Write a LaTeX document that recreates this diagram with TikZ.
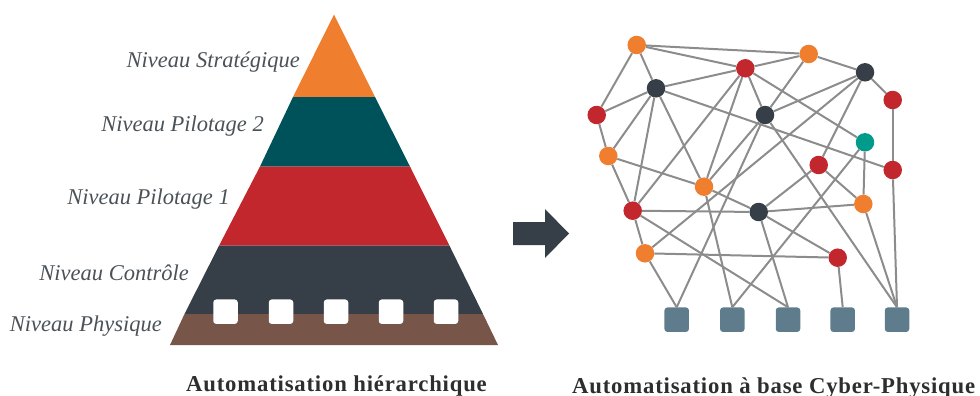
\documentclass[tikz,border=0pt]{standalone}
\usepackage{fontspec}
\setmainfont{Liberation Serif}
\newfontfamily\ttlfont[LetterSpace=3.6]{Liberation Serif}
\definecolor{cOrange}{HTML}{EF7F2F}
\definecolor{cTeal}{HTML}{00525A}
\definecolor{cGreen}{HTML}{009B8A}
\definecolor{cRed}{HTML}{C1272D}
\definecolor{cDark}{HTML}{363E47}
\definecolor{cBrown}{HTML}{775548}
\definecolor{cSlate}{HTML}{5E7C8B}
\definecolor{cEdge}{HTML}{8C8C8C}
\definecolor{cText}{HTML}{4A5258}
\tikzset{
  x=1pt,y=-1pt,
  dot/.style={circle,inner sep=0pt,minimum size=18.5pt,fill=#1},
  sq/.style={rectangle,rounded corners=3pt,inner sep=0pt,minimum size=24.5pt,fill=#1},
  lvl/.style={anchor=base east,inner sep=0pt,text=cText,font=\fontsize{22.5}{24}\selectfont\itshape},
  ttl/.style={anchor=base west,inner sep=0pt,text=black!82,font=\ttlfont\fontsize{22.7}{24}\selectfont\bfseries},
  edge/.style={draw=cEdge,line width=2pt}
}
\begin{document}
\begin{tikzpicture}
\useasboundingbox (0,0) rectangle (980,396);
% pyramid
\fill[cOrange] (334,14.5) -- (375,97) -- (293,97) -- cycle;
\fill[cTeal] (293,97) -- (375,97) -- (410,166.5) -- (260,166.5) -- cycle;
\fill[cRed] (260,166.5) -- (410,166.5) -- (449.5,245.7) -- (219,245.7) -- cycle;
\fill[cDark] (219,245.7) -- (449.5,245.7) -- (483,314) -- (184.5,314) -- cycle;
\fill[cBrown] (184.5,314) -- (483,314) -- (498,345) -- (170,345) -- cycle;
\foreach \n/\x in {a/225.5,b/281,c/336,d/391,e/446}
  \node[sq=white] (w\n) at (\x,311.7) {};
% labels
\node[lvl] (l1) at (300,68) {Niveau Stratégique};
\node[lvl] (l2) at (264,131.7) {Niveau Pilotage 2};
\node[lvl] (l3) at (230,204) {Niveau Pilotage 1};
\node[lvl] (l4) at (189,280) {Niveau Contrôle};
\node[lvl] (l5) at (162,331) {Niveau Physique};
\node[ttl] (t1) at (186,391) {Automatisation hiérarchique};
\node[ttl] (t2) at (572,393) {Automatisation à base Cyber-Physique};
% arrow
\fill[cDark] (513,222) -- (545,222) -- (545,209) -- (569,233.5) -- (545,258) -- (545,245) -- (513,245) -- cycle;
% network
\node[dot=cOrange] (o1) at (636.7,45) {};
\node[dot=cOrange] (o2) at (808.7,54) {};
\node[dot=cRed] (r1) at (745.3,68.3) {};
\node[dot=cDark] (k1) at (656,88.3) {};
\node[dot=cDark] (k2) at (865,72.3) {};
\node[dot=cRed] (r2) at (892.7,100) {};
\node[dot=cRed] (r3) at (596.7,115) {};
\node[dot=cDark] (k3) at (765,115) {};
\node[dot=cGreen] (g1) at (865,142.3) {};
\node[dot=cOrange] (o3) at (608.3,156) {};
\node[dot=cRed] (r4) at (818.7,165) {};
\node[dot=cRed] (r5) at (892.7,170) {};
\node[dot=cOrange] (o4) at (704,186.7) {};
\node[dot=cOrange] (o5) at (863.3,204) {};
\node[dot=cRed] (r6) at (632.7,210.7) {};
\node[dot=cDark] (k4) at (758.7,212) {};
\node[dot=cOrange] (o6) at (645,253.3) {};
\node[dot=cRed] (r7) at (837.7,257.7) {};
\foreach \n/\x in {1/676.7,2/732.3,3/788,4/842.7,5/897}
  \node[sq=cSlate] (s\n) at (\x,319.7) {};
\foreach \a/\b in {o1/o2,o1/r1,o1/k1,o1/r3,o2/r1,o2/k2,o2/k3,r1/k1,r1/k3,r1/g1,r1/o4,r1/r6,
  k1/r3,k1/o3,k1/r6,k1/o4,k1/r5,r3/o3,o3/o4,o3/r6,k3/k2,k3/o4,k2/r2,k2/r4,k2/o6,
  g1/o5,r4/k4,r4/o5,r2/r5,o4/k4,o5/k4,r6/k4,r6/o6,k4/r7,o6/r7}
  \draw[edge] (\a) -- (\b);
\foreach \a/\b in {k3/s1,k3/s5,g1/s2,r5/s5,o4/s2,o5/s5,r6/s3,k4/s3,o6/s1,r7/s4}
  \draw[edge] (\a) -- (\b.north);
\end{tikzpicture}
\end{document}
